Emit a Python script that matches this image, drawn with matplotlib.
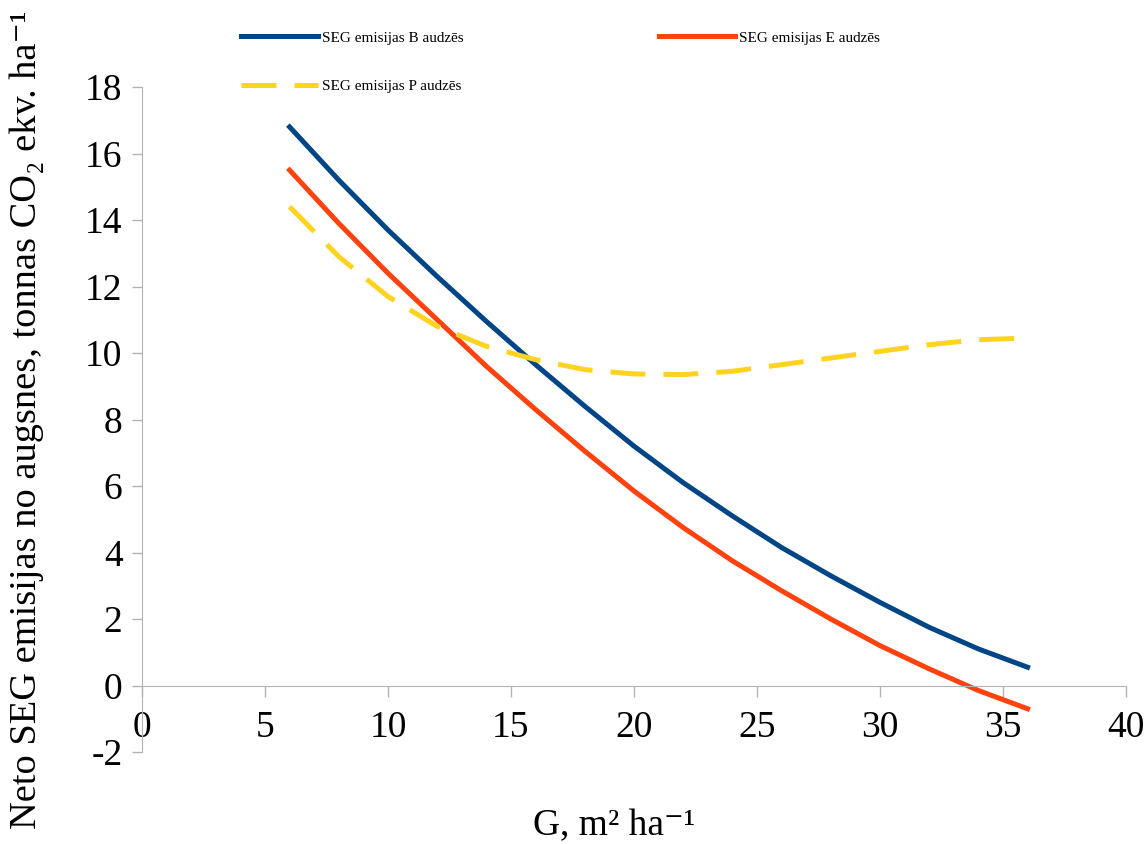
import matplotlib.pyplot as plt

plt.rcParams['font.family'] = ['Liberation Serif', 'DejaVu Serif']
plt.rcParams['axes.unicode_minus'] = False

g = [6, 8, 10, 12, 14, 16, 18, 20, 22, 24, 26, 28, 30, 32, 34, 36]
seg_b = [16.8, 15.2, 13.7, 12.3, 10.95, 9.65, 8.4, 7.2, 6.1, 5.1, 4.15, 3.3, 2.5, 1.75, 1.1, 0.55]
seg_e = [15.5, 13.9, 12.4, 11.0, 9.6, 8.3, 7.05, 5.85, 4.75, 3.75, 2.85, 2.0, 1.2, 0.5, -0.15, -0.7]
seg_p = [14.4, 12.9, 11.7, 10.8, 10.2, 9.8, 9.5, 9.37, 9.35, 9.45, 9.65, 9.85, 10.05, 10.25, 10.4, 10.45]

fig = plt.figure(figsize=(11.48, 8.44), dpi=100)
ax = fig.add_axes([0.1237, 0.109, 0.8571, 0.7879])

lb, = ax.plot(g, seg_b, color='#004586', lw=3.6, label='SEG emisijas B audzēs')
le, = ax.plot(g, seg_e, color='#ff420e', lw=3.6, label='SEG emisijas E audzēs')
lp, = ax.plot(g, seg_p, color='#ffd320', lw=3.6, dashes=(7, 3.6), label='SEG emisijas P audzēs')

ax.set_xlim(0, 40)
ax.set_ylim(-2, 18)
ax.set_xticks(range(0, 41, 5))
ax.set_yticks(range(-2, 19, 2))

for s in ['top', 'right']:
    ax.spines[s].set_visible(False)
ax.spines['bottom'].set_position(('data', 0))
ax.spines['left'].set_color('#b3b3b3')
ax.spines['bottom'].set_color('#b3b3b3')
ax.tick_params(axis='both', colors='#b3b3b3', labelcolor='black', labelsize=27, width=1)
ax.tick_params(axis='y', length=7, pad=7)
ax.tick_params(axis='x', direction='out', length=8, pad=10)

ax.set_xlabel('G, m² ha⁻¹', fontsize=27)
ax.set_ylabel('Neto SEG emisijas no augsnes, tonnas CO₂ ekv. ha⁻¹', fontsize=27.6)
ax.xaxis.set_label_coords(0.48, -0.085)
ax.yaxis.set_label_coords(-0.1, 0.5)

leg = ax.legend([lb, lp, le], [lb.get_label(), lp.get_label(), le.get_label()],
                ncol=2, frameon=False, fontsize=11, handlelength=5.0, handletextpad=0.26,
                columnspacing=12.8, labelspacing=2.27,
                loc='lower left', bbox_to_anchor=(0.087, 0.97))

fig.savefig('out.png', dpi=100)
